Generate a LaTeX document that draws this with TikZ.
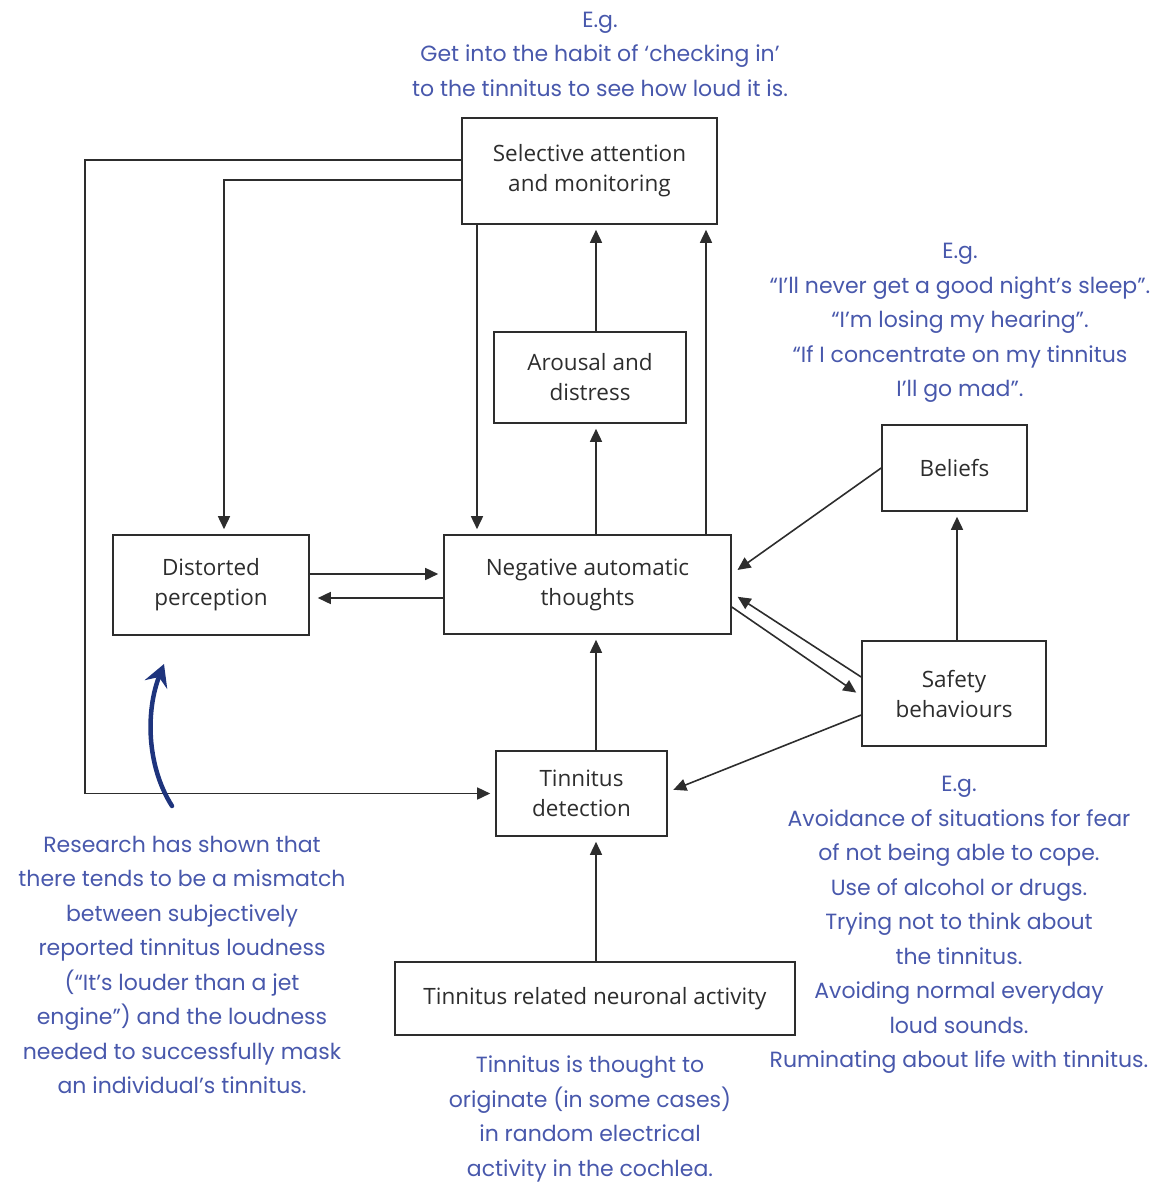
\documentclass[tikz,border=0pt]{standalone}
\usepackage{fontspec}
\usetikzlibrary{arrows.meta}
\newfontfamily\boxfont{Open Sans}
\newfontfamily\hand{Poppins}
\definecolor{handblue}{RGB}{72,88,172}
\definecolor{navy}{RGB}{30,52,125}
\definecolor{ink}{RGB}{45,45,45}
\tikzset{
  box/.style={draw=ink, line width=1.6pt, inner sep=0pt, align=center, text=ink,
    font=\boxfont\fontsize{22.5}{30}\selectfont},
  conn/.style={draw=ink, line width=1.6pt, -{Triangle[length=13pt,width=12pt]}, shorten >=5pt},
  note/.style={align=center, text=handblue, inner sep=0pt,
    font=\hand\fontsize{22}{34.5}\selectfont},
  bluearrow/.style={draw=navy, line width=4.5pt, line cap=round, -{Stealth[length=22pt,width=24pt,inset=8pt]}}
}
\begin{document}
\begin{tikzpicture}[x=1pt,y=-1pt]
\useasboundingbox (0,0) rectangle (1163,1188);
% boxes
\node[box, minimum width=255pt, minimum height=106pt] (SA) at (589.5,171) {Selective attention\\and monitoring};
\node[box, minimum width=192pt, minimum height=91pt] (AD) at (590,377.5) {Arousal and\\distress};
\node[box, minimum width=145pt, minimum height=86pt] (B) at (954.5,468) {Beliefs};
\node[box, minimum width=196pt, minimum height=100pt] (DP) at (211,585) {Distorted\\perception};
\node[box, minimum width=287pt, minimum height=99pt] (NAT) at (587.5,584.5) {Negative automatic\\thoughts};
\node[box, minimum width=184pt, minimum height=105pt] (SB) at (954,693.5) {Safety\\behaviours};
\node[box, minimum width=171pt, minimum height=85pt] (TD) at (581.5,793.5) {Tinnitus\\detection};
\node[box, minimum width=400pt, minimum height=73pt] (TN) at (595,998.5) {Tinnitus related neuronal activity};
% helper coordinates
\coordinate (l1) at (85,160);
\coordinate (l2) at (224,180);
\coordinate (c477) at (477,0);
\coordinate (c596) at (596,0);
\coordinate (c706) at (706,0);
\coordinate (c957) at (957,0);
\coordinate (r574) at (0,574);
\coordinate (r598) at (0,598);
\coordinate (nb) at (0,574);
\coordinate (ns) at (0,593);
\coordinate (nt) at (0,607);
\coordinate (sbt) at (0,696);
\coordinate (sbd) at (0,715);
\coordinate (tdr) at (0,792);
\coordinate (sbn) at (0,677);
% connectors
\draw[conn] (SA.west |- l1) -- (l1) |- (TD.west);
\draw[conn] (SA.west |- l2) -| (DP.north -| l2);
\draw[conn] (SA.south -| c477) -- (NAT.north -| c477);
\draw[conn] (NAT.north -| c706) -- (SA.south -| c706);
\draw[conn] (NAT.north -| c596) -- (AD.south -| c596);
\draw[conn] (AD.north -| c596) -- (SA.south -| c596);
\draw[conn] (DP.east |- r574) -- (NAT.west |- r574);
\draw[conn, shorten >=8pt] (NAT.west |- r598) -- (DP.east |- r598);
\draw[conn, shorten >=7pt] (B.west) -- (NAT.east |- nb);
\draw[conn, shorten >=7pt] (SB.west |- sbn) -- (NAT.east |- ns);
\draw[conn, shorten >=6pt] (NAT.east |- nt) -- (SB.west |- sbt);
\draw[conn, shorten >=6pt] (SB.west |- sbd) -- (TD.east |- tdr);
\draw[conn] (TD.north -| c596) -- (NAT.south -| c596);
\draw[conn] (TN.north -| c596) -- (TD.south -| c596);
\draw[conn] (SB.north -| c957) -- (B.south -| c957);
% blue arrow
\coordinate (ba1) at (172,806);
\coordinate (ba2) at (164,664);
\draw[bluearrow] (ba1) .. controls (146,765) and (146,710) .. (ba2);
% notes
\node[note] (t1) at (600,54) {E.g.\\Get into the habit of ‘checking in’\\to the tinnitus to see how loud it is.};
\node[note] (t2) at (960,323) {E.g.\\“I’ll never get a good night’s sleep”.\\“I’m losing my hearing”.\\“If I concentrate on my tinnitus\\I’ll go mad”.};
\node[note] (t3) at (959,925) {E.g.\\Avoidance of situations for fear\\of not being able to cope.\\Use of alcohol or drugs.\\Trying not to think about\\the tinnitus.\\Avoiding normal everyday\\loud sounds.\\Ruminating about life with tinnitus.};
\node[note] (t4) at (182,965) {Research has shown that\\there tends to be a mismatch\\between subjectively\\reported tinnitus loudness\\(“It’s louder than a jet\\engine”) and the loudness\\needed to successfully mask\\an individual’s tinnitus.};
\node[note] (t5) at (590,1119) {Tinnitus is thought to\\originate (in some cases)\\in random electrical\\activity in the cochlea.};
\end{tikzpicture}
\end{document}
